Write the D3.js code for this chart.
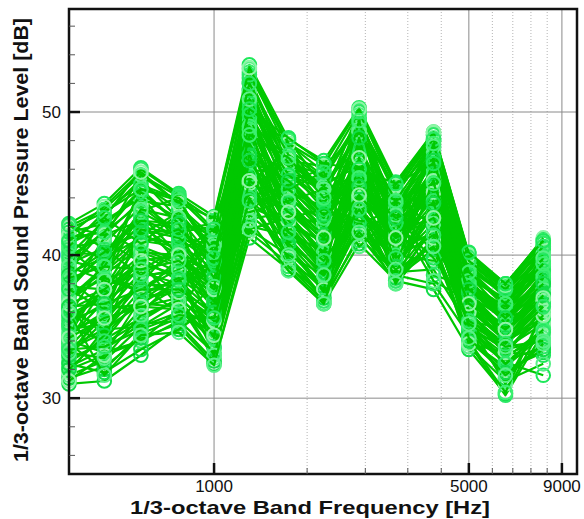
<!DOCTYPE html>
<html>
<head>
<meta charset="utf-8">
<script src="https://cdn.jsdelivr.net/npm/d3@7"></script>
<style>
  html, body { margin: 0; padding: 0; background: #fff; }
  svg { display: block; }
  text { font-family: "Liberation Sans", Arial, sans-serif; fill: #111; }
</style>
</head>
<body>
<svg id="chart" width="584" height="519"></svg>
<script>
// 1/3-octave band centre frequencies [Hz]
const bands = [400, 500, 630, 800, 1000, 1250, 1600, 2000, 2500, 3150, 4000, 5000, 6300, 8000];

// Band sound pressure levels [dB], one row per measurement
const s01 = [42.2, 43.6, 46.1, 44.3, 42.7, 53.3, 48.1, 46.6, 50.3, 45.1, 48.6, 40.1, 38.0, 41.1];
const s02 = [35.0, 38.2, 44.9, 43.9, 36.5, 52.8, 47.2, 44.0, 50.1, 44.8, 48.4, 39.8, 37.7, 40.9];
const s03 = [31.0, 31.2, 33.0, 35.0, 32.4, 41.2, 39.0, 36.6, 40.8, 38.2, 37.6, 33.4, 30.3, 35.2];
const s04 = [40.5, 41.0, 39.5, 36.4, 34.0, 52.2, 46.0, 43.2, 49.0, 42.0, 47.5, 37.0, 34.4, 38.3];
const s05 = [33.2, 35.8, 42.0, 40.2, 38.8, 51.5, 44.5, 41.8, 48.2, 43.5, 46.8, 36.1, 33.0, 36.4];
const s06 = [38.6, 42.8, 45.3, 42.5, 40.9, 50.8, 45.7, 45.1, 47.5, 41.2, 46.2, 38.8, 36.4, 39.7];
const s07 = [36.4, 33.5, 36.2, 37.8, 41.6, 50.1, 42.5, 39.4, 47.0, 39.8, 45.5, 35.4, 32.5, 31.6];
const s08 = [41.0, 39.6, 43.1, 44.0, 39.5, 49.6, 48.0, 44.8, 46.5, 43.8, 44.9, 37.8, 35.6, 37.5];
const s09 = [34.2, 36.8, 38.5, 39.0, 33.5, 49.0, 41.2, 38.4, 45.8, 40.4, 44.2, 34.6, 31.4, 33.8];
const s10 = [39.4, 40.5, 41.5, 41.8, 42.2, 48.5, 46.5, 43.6, 45.2, 42.6, 43.8, 39.2, 37.2, 38.9];
const s11 = [32.5, 34.1, 35.6, 36.9, 35.2, 48.0, 40.4, 37.5, 44.8, 39.0, 43.1, 33.8, 30.2, 34.6];
const s12 = [37.8, 37.6, 40.8, 42.9, 37.2, 47.4, 44.0, 42.4, 44.2, 41.6, 42.6, 36.9, 35.0, 37.2];
const s13 = [41.6, 42.2, 44.2, 40.8, 39.0, 46.9, 45.2, 46.0, 43.7, 44.0, 42.0, 38.4, 36.8, 40.5];
const s14 = [35.6, 37.1, 39.8, 38.2, 36.0, 46.2, 43.3, 40.6, 43.2, 40.8, 41.4, 35.8, 33.8, 36.0];
const s15 = [33.8, 32.0, 34.5, 35.6, 34.8, 45.6, 41.8, 39.0, 42.8, 38.6, 40.8, 34.2, 32.0, 33.2];
const s16 = [39.9, 41.4, 43.8, 43.4, 41.2, 45.0, 47.4, 45.5, 42.2, 43.2, 40.2, 38.0, 36.0, 39.0];
const s17 = [36.9, 39.0, 37.2, 39.8, 38.0, 44.4, 42.0, 41.0, 41.8, 40.0, 39.6, 36.4, 34.2, 35.6];
const s18 = [34.8, 35.2, 36.8, 38.6, 33.0, 43.8, 40.0, 37.0, 41.2, 38.8, 39.0, 35.0, 33.4, 34.0];
const s19 = [40.2, 40.0, 42.6, 41.2, 40.4, 43.2, 44.8, 43.0, 49.6, 42.8, 48.0, 38.6, 35.9, 40.0];
const s20 = [37.2, 38.8, 41.0, 40.6, 36.8, 42.5, 43.0, 42.0, 48.8, 41.4, 47.0, 37.4, 34.8, 38.0];
const s21 = [35.4, 36.4, 39.2, 37.4, 35.6, 42.0, 41.4, 39.8, 48.0, 40.2, 46.4, 36.0, 33.6, 36.8];
const s22 = [32.0, 33.0, 34.0, 36.2, 34.0, 41.6, 39.4, 38.0, 47.2, 39.4, 45.8, 34.0, 32.2, 34.4];
const s23 = [38.2, 39.4, 42.2, 42.0, 39.2, 52.0, 45.0, 42.6, 46.8, 41.9, 45.2, 37.6, 35.3, 37.9];
const s24 = [36.0, 35.0, 38.0, 41.0, 37.8, 51.2, 43.8, 41.2, 46.0, 41.0, 44.6, 36.6, 34.0, 35.4];
const s25 = [33.4, 34.6, 37.6, 39.4, 36.2, 50.5, 42.8, 40.2, 45.4, 40.6, 44.0, 35.6, 33.2, 33.0];
const s26 = [42.0, 43.2, 45.6, 44.1, 42.4, 49.2, 46.8, 44.4, 44.6, 43.4, 43.4, 39.5, 37.4, 40.6];
const s27 = [39.0, 41.8, 40.2, 39.2, 37.6, 48.8, 44.2, 41.5, 44.0, 42.2, 42.8, 37.2, 35.5, 36.8];
const s28 = [34.5, 36.0, 38.8, 38.0, 34.6, 47.8, 41.6, 38.8, 43.5, 39.6, 42.2, 35.2, 31.0, 35.8];
const s29 = [37.0, 38.4, 37.8, 36.0, 35.2, 47.1, 40.8, 38.2, 42.6, 38.4, 41.8, 34.8, 32.8, 34.8];
const s30 = [31.6, 32.6, 35.0, 36.6, 32.8, 46.5, 39.2, 37.2, 42.0, 38.0, 41.0, 33.6, 31.2, 32.4];
const s31 = [40.8, 42.0, 44.6, 42.2, 41.4, 45.8, 46.2, 45.0, 46.2, 44.4, 47.6, 39.0, 36.6, 39.4];
const s32 = [38.4, 40.8, 43.4, 41.4, 39.8, 44.8, 44.4, 43.4, 45.0, 42.4, 46.6, 38.2, 35.8, 38.6];
const s33 = [36.2, 37.4, 39.0, 40.4, 38.4, 44.0, 43.6, 40.4, 44.4, 41.2, 45.0, 37.0, 34.6, 37.0];
const s34 = [35.2, 36.6, 36.0, 38.4, 36.6, 43.4, 42.2, 39.2, 43.0, 39.2, 43.6, 35.9, 33.5, 35.2];
const s35 = [32.8, 33.8, 35.4, 37.0, 33.6, 42.8, 40.6, 37.8, 42.4, 38.6, 38.0, 34.4, 32.6, 33.6];
const s36 = [39.6, 39.0, 41.4, 43.0, 40.2, 53.0, 47.6, 44.2, 49.8, 43.0, 48.2, 39.4, 37.0, 39.6];
const s37 = [37.6, 40.2, 42.8, 40.0, 38.6, 51.6, 45.4, 42.9, 48.5, 42.8, 46.9, 38.0, 36.2, 38.2];
const s38 = [36.6, 34.4, 37.0, 37.6, 35.0, 50.0, 43.0, 39.6, 47.8, 40.0, 45.8, 34.0, 30.4, 36.2];
const s39 = [34.0, 37.8, 40.0, 38.8, 37.4, 49.4, 42.4, 40.8, 46.6, 41.6, 44.4, 36.4, 34.6, 37.4];
const s40 = [41.2, 41.6, 43.6, 41.6, 42.0, 47.6, 45.6, 44.6, 45.6, 44.6, 43.0, 38.4, 35.4, 38.8];
const s41 = [38.8, 39.8, 41.2, 40.8, 36.2, 46.0, 44.6, 41.6, 43.9, 42.0, 42.4, 37.4, 34.4, 37.8];
const s42 = [33.0, 35.4, 38.2, 37.2, 34.4, 45.2, 41.0, 38.6, 43.4, 40.2, 41.6, 35.0, 33.0, 34.2];
const s43 = [41.8, 43.0, 45.0, 43.2, 41.0, 52.4, 46.4, 45.6, 49.4, 44.2, 48.0, 39.6, 37.6, 40.4];
const s44 = [40.0, 42.4, 44.0, 42.6, 39.6, 51.0, 47.0, 44.6, 48.4, 43.6, 47.2, 39.0, 37.2, 39.9];
const s45 = [38.0, 40.0, 42.0, 41.4, 40.6, 50.4, 45.8, 43.8, 47.2, 42.4, 46.0, 38.5, 36.8, 39.2];
const s46 = [36.8, 38.6, 40.6, 39.6, 38.2, 49.8, 44.8, 42.2, 46.4, 41.8, 45.4, 37.8, 35.8, 38.4];
const s47 = [35.8, 37.2, 39.4, 38.6, 37.0, 49.2, 43.6, 41.0, 45.6, 41.0, 44.8, 37.0, 35.0, 37.6];
const s48 = [34.6, 35.8, 38.0, 37.8, 35.8, 48.6, 42.6, 40.0, 45.0, 40.4, 44.2, 36.4, 34.2, 36.8];
const s49 = [33.6, 34.8, 36.6, 36.4, 34.8, 47.6, 41.8, 39.2, 44.2, 39.8, 43.4, 35.6, 33.4, 35.6];
const s50 = [32.2, 33.4, 35.2, 35.4, 33.2, 46.8, 40.2, 37.8, 43.6, 39.2, 42.8, 34.8, 32.4, 34.8];
const s51 = [31.4, 32.2, 34.2, 35.2, 32.6, 45.4, 39.6, 37.0, 42.2, 38.4, 40.4, 34.0, 31.8, 33.4];
const s52 = [42.0, 41.4, 42.4, 39.4, 36.8, 44.6, 46.6, 46.2, 48.6, 44.8, 48.5, 40.0, 37.9, 41.0];
const s53 = [39.2, 42.6, 46.0, 44.2, 41.8, 48.2, 43.4, 41.0, 45.8, 42.6, 45.6, 37.2, 36.6, 40.2];
const s54 = [37.4, 41.2, 45.6, 43.6, 40.0, 47.2, 42.8, 40.0, 44.8, 41.4, 44.6, 36.8, 36.0, 39.4];
const s55 = [35.8, 39.6, 44.4, 42.2, 39.0, 46.4, 42.0, 39.0, 43.8, 40.6, 43.6, 36.2, 35.2, 38.6];
const s56 = [34.4, 38.4, 43.0, 41.6, 37.4, 45.6, 41.2, 38.6, 42.8, 39.6, 42.8, 35.4, 34.8, 37.8];
const s57 = [33.0, 36.2, 41.6, 40.0, 36.4, 44.6, 40.6, 37.4, 42.2, 38.8, 42.0, 34.6, 33.8, 37.0];
const s58 = [31.8, 34.8, 40.4, 39.4, 35.4, 43.6, 39.8, 36.8, 41.4, 38.2, 41.2, 33.8, 33.2, 36.2];
const s59 = [40.4, 38.4, 37.4, 38.2, 42.4, 52.6, 47.8, 45.8, 50.0, 44.4, 48.4, 39.9, 37.8, 40.8];
const s60 = [38.2, 36.4, 36.4, 37.0, 41.0, 51.4, 46.2, 44.4, 48.8, 43.4, 47.4, 39.2, 37.4, 40.1];
const s61 = [36.2, 34.8, 35.0, 36.0, 39.8, 50.6, 45.0, 43.0, 47.6, 42.6, 46.6, 38.6, 36.9, 39.6];
const s62 = [34.0, 33.2, 34.0, 35.4, 38.0, 49.6, 44.0, 42.0, 46.8, 41.6, 45.6, 38.0, 36.4, 39.0];
const s63 = [32.4, 31.8, 33.4, 34.8, 36.6, 48.4, 43.0, 40.8, 46.0, 40.8, 44.8, 37.4, 35.8, 38.2];
const s64 = [41.4, 43.4, 45.8, 43.6, 42.6, 53.1, 47.8, 46.3, 50.2, 44.9, 48.6, 40.0, 37.9, 41.2];
const s65 = [39.8, 41.6, 44.6, 44.0, 41.6, 52.0, 47.0, 45.4, 49.2, 44.6, 48.1, 39.6, 37.6, 40.6];
const s66 = [37.0, 39.2, 43.2, 42.6, 40.8, 50.9, 46.4, 44.8, 48.6, 43.8, 47.6, 38.8, 36.6, 39.8];
const s67 = [35.2, 37.6, 41.8, 41.2, 39.4, 49.8, 45.6, 43.6, 47.4, 43.0, 46.8, 38.0, 36.2, 38.9];
const s68 = [33.6, 36.0, 40.2, 40.0, 38.0, 48.8, 44.6, 42.6, 46.2, 42.2, 46.0, 37.6, 35.6, 38.4];
const s69 = [32.0, 34.4, 38.6, 38.8, 36.8, 47.8, 43.6, 41.4, 45.2, 41.2, 45.2, 36.8, 35.0, 37.6];
const s70 = [31.2, 33.0, 37.0, 37.4, 35.4, 46.6, 42.4, 40.2, 44.0, 40.2, 44.4, 36.2, 34.2, 36.8];
const s71 = [42.1, 40.4, 38.6, 40.2, 41.8, 44.2, 44.6, 45.8, 41.0, 43.6, 38.6, 37.8, 35.6, 38.4];
const s72 = [39.2, 38.2, 37.6, 39.0, 40.6, 43.0, 43.8, 44.6, 40.6, 42.8, 38.2, 36.8, 34.8, 37.6];
const s73 = [37.6, 36.2, 36.6, 38.2, 39.6, 41.8, 42.6, 43.2, 42.4, 42.2, 39.8, 36.2, 34.0, 36.6];
const s74 = [40.6, 43.0, 44.6, 43.8, 40.2, 49.0, 41.6, 40.2, 49.4, 40.0, 47.8, 38.2, 35.2, 38.6];
const s75 = [38.6, 40.2, 42.4, 42.2, 38.4, 47.0, 40.8, 38.8, 48.2, 39.2, 46.6, 37.0, 34.2, 37.2];
const s76 = [36.6, 37.6, 39.6, 40.0, 37.6, 45.0, 39.8, 37.6, 46.8, 38.6, 45.2, 36.0, 33.2, 35.8];
const s77 = [35.0, 34.0, 37.2, 38.4, 34.2, 44.0, 39.2, 36.8, 45.2, 38.2, 43.8, 35.0, 32.4, 34.6];
const s78 = [33.2, 32.8, 35.8, 36.8, 33.0, 42.4, 38.9, 36.6, 43.8, 38.0, 42.2, 34.2, 31.6, 33.8];
const s79 = [41.0, 42.6, 40.8, 41.8, 39.8, 50.2, 48.2, 46.4, 46.0, 45.0, 46.4, 40.2, 38.0, 41.0];
const s80 = [38.4, 39.2, 39.0, 39.6, 37.8, 48.4, 46.8, 44.0, 45.4, 43.8, 45.0, 38.8, 36.6, 39.4];
const s81 = [36.4, 36.6, 37.6, 37.6, 36.0, 46.6, 45.2, 42.8, 44.8, 42.6, 43.6, 37.6, 35.6, 38.0];
const s82 = [34.2, 35.6, 36.4, 36.2, 34.4, 45.2, 43.0, 41.2, 44.2, 41.2, 42.6, 36.6, 34.8, 37.0];
const s83 = [33.4, 33.6, 34.8, 35.8, 35.6, 43.8, 41.6, 39.6, 43.2, 39.8, 41.4, 35.4, 33.8, 36.4];
const s84 = [36.0, 31.6, 34.4, 34.6, 32.3, 41.8, 40.0, 38.6, 41.6, 39.0, 40.6, 35.2, 33.6, 34.0];

const measurements = [s01, s02, s03, s04, s05, s06, s07, s08, s09, s10, s11, s12, s13, s14,
  s15, s16, s17, s18, s19, s20, s21, s22, s23, s24, s25, s26, s27, s28,
  s29, s30, s31, s32, s33, s34, s35, s36, s37, s38, s39, s40, s41, s42,
  s43, s44, s45, s46, s47, s48, s49, s50, s51, s52, s53, s54, s55, s56,
  s57, s58, s59, s60, s61, s62, s63, s64, s65, s66, s67, s68, s69, s70,
  s71, s72, s73, s74, s75, s76, s77, s78, s79, s80, s81, s82, s83, s84];

// Axis ticks
const xMajorTicks = [1000, 5000, 9000];
const xMinorTicks = [1800, 2600, 3400, 4200, 5800, 6600, 7400, 8200];
const yMajorTicks = [30, 40, 50];
const yMinorTicks = [26, 28, 32, 34, 36, 38, 42, 44, 46, 48, 52, 54, 56];

const xTitle = "1/3-octave Band Frequency [Hz]";
const yTitle = "1/3-octave Band Sound Pressure Level [dB]";

const svg = d3.select("#chart");
const plot = { left: 69, right: 577, top: 9, bottom: 474 };

const x = d3.scaleLog().domain([400, 9900]).range([plot.left, plot.right]);
const y = d3.scaleLinear().domain([24.7, 57.2]).range([plot.bottom, plot.top]);

// Grid
const grid = svg.append("g");
grid.selectAll("line.vminor").data(xMinorTicks).join("line")
  .attr("x1", d => x(d)).attr("x2", d => x(d))
  .attr("y1", plot.top).attr("y2", plot.bottom)
  .attr("stroke", "#b4b4b4").attr("stroke-width", 1)
  .attr("stroke-dasharray", "1,2");
grid.selectAll("line.vmajor").data(xMajorTicks).join("line")
  .attr("x1", d => x(d)).attr("x2", d => x(d))
  .attr("y1", plot.top).attr("y2", plot.bottom)
  .attr("stroke", "#8a8a8a").attr("stroke-width", 1);
grid.selectAll("line.hmajor").data(yMajorTicks).join("line")
  .attr("x1", plot.left).attr("x2", plot.right)
  .attr("y1", d => y(d)).attr("y2", d => y(d))
  .attr("stroke", "#8a8a8a").attr("stroke-width", 1);

// Measurement curves with their symbols
const markerColours = ["#1ee85a", "#3cf070", "#12dc48", "#8ef5a6", "#2ce866", "#5af088"];
const line = d3.line().x((d, i) => x(bands[i])).y(d => y(d));
const curves = svg.append("g");
measurements.forEach((levels, k) => {
  const g = curves.append("g");
  g.append("path").datum(levels)
    .attr("d", line)
    .attr("fill", "none")
    .attr("stroke", "#00c800")
    .attr("stroke-width", 2.2)
    .attr("stroke-linejoin", "round");
  g.selectAll("circle").data(levels).join("circle")
    .attr("cx", (d, i) => x(bands[i]))
    .attr("cy", d => y(d))
    .attr("r", 6.8)
    .attr("fill", "none")
    .attr("stroke", markerColours[k % markerColours.length])
    .attr("stroke-width", 2);
});

// Frame and ticks
const axes = svg.append("g");
axes.append("rect")
  .attr("x", plot.left).attr("y", plot.top)
  .attr("width", plot.right - plot.left).attr("height", plot.bottom - plot.top)
  .attr("fill", "none").attr("stroke", "#111").attr("stroke-width", 2.5);

axes.selectAll("line.ymaj").data(yMajorTicks).join("line")
  .attr("x1", plot.left).attr("x2", plot.left + 11)
  .attr("y1", d => y(d)).attr("y2", d => y(d))
  .attr("stroke", "#111").attr("stroke-width", 2.5);
axes.selectAll("line.ymin").data(yMinorTicks).join("line")
  .attr("x1", plot.left).attr("x2", plot.left + 6)
  .attr("y1", d => y(d)).attr("y2", d => y(d))
  .attr("stroke", "#555").attr("stroke-width", 1);
axes.selectAll("line.xmaj").data(xMajorTicks).join("line")
  .attr("x1", d => x(d)).attr("x2", d => x(d))
  .attr("y1", plot.bottom).attr("y2", plot.bottom - 11)
  .attr("stroke", "#111").attr("stroke-width", 2.5);
axes.selectAll("line.xmin").data(xMinorTicks).join("line")
  .attr("x1", d => x(d)).attr("x2", d => x(d))
  .attr("y1", plot.bottom).attr("y2", plot.bottom - 6)
  .attr("stroke", "#555").attr("stroke-width", 1);

// Tick labels
axes.selectAll("text.ylab").data(yMajorTicks).join("text")
  .attr("x", plot.left - 8).attr("y", d => y(d))
  .attr("dy", "0.35em").attr("text-anchor", "end")
  .attr("font-size", 17).text(d => d);
axes.selectAll("text.xlab").data(xMajorTicks).join("text")
  .attr("x", d => x(d)).attr("y", plot.bottom + 18)
  .attr("text-anchor", "middle")
  .attr("font-size", 17).text(d => d);

// Axis titles
svg.append("text")
  .attr("x", 310).attr("y", 514)
  .attr("text-anchor", "middle")
  .attr("font-size", 19).attr("font-weight", "bold")
  .attr("textLength", 360).attr("lengthAdjust", "spacingAndGlyphs")
  .text(xTitle);
svg.append("text")
  .attr("transform", "translate(28,240) rotate(-90)")
  .attr("text-anchor", "middle")
  .attr("font-size", 20).attr("font-weight", "bold")
  .attr("textLength", 444).attr("lengthAdjust", "spacingAndGlyphs")
  .text(yTitle);
</script>
</body>
</html>
